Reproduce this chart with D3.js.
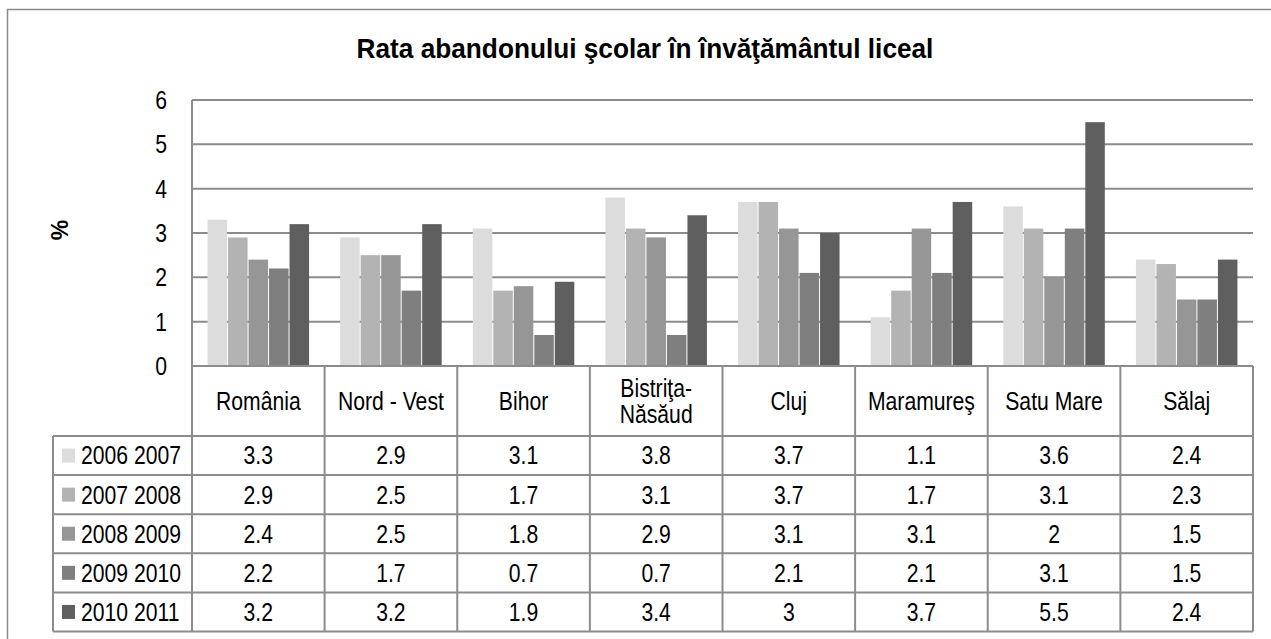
<!DOCTYPE html>
<html>
<head>
<meta charset="utf-8">
<script src="https://cdn.jsdelivr.net/npm/d3@7"></script>
<style>
  html, body { margin: 0; background: #fff; }
  svg { display: block; }
  text { font-family: "Liberation Sans", Arial, sans-serif; fill: #000; }
</style>
</head>
<body>
<svg id="chart" width="1271" height="639"></svg>
<script>
// Chart text and data
const title = "Rata abandonului şcolar în învăţământul liceal";
const yLabel = "%";
const categories = ["România", "Nord - Vest", "Bihor", "Bistriţa-Năsăud", "Cluj", "Maramureş", "Satu Mare", "Sălaj"];
const seriesNames = ["2006 2007", "2007 2008", "2008 2009", "2009 2010", "2010 2011"];
const v2006_2007 = [3.3, 2.9, 3.1, 3.8, 3.7, 1.1, 3.6, 2.4];
const v2007_2008 = [2.9, 2.5, 1.7, 3.1, 3.7, 1.7, 3.1, 2.3];
const v2008_2009 = [2.4, 2.5, 1.8, 2.9, 3.1, 3.1, 2, 1.5];
const v2009_2010 = [2.2, 1.7, 0.7, 0.7, 2.1, 2.1, 3.1, 1.5];
const v2010_2011 = [3.2, 3.2, 1.9, 3.4, 3, 3.7, 5.5, 2.4];
const yTicks = [0, 1, 2, 3, 4, 5, 6];

const seriesValues = [v2006_2007, v2007_2008, v2008_2009, v2009_2010, v2010_2011];
const colors = ["#dcdcdc", "#b3b3b3", "#969696", "#7f7f7f", "#5f5f5f"];
const lineColor = "#8c8c8c";

// Layout
const plot = { left: 192, right: 1253, top: 100, bottom: 366 };
const table = { left: 53, headerBottom: 436, rowH: 39.1 };
const fontSize = 25.5, squeeze = 0.83;

const svg = d3.select("#chart");

// Outer frame
svg.append("rect")
  .attr("x", 7.5).attr("y", 9.5).attr("width", 1400).attr("height", 800)
  .attr("fill", "none").attr("stroke", lineColor).attr("stroke-width", 1.5);

const x = d3.scaleBand().domain(categories).range([plot.left, plot.right]).padding(0);
const xs = d3.scaleBand().domain(seriesNames).range([0, x.bandwidth()])
  .paddingInner(0).paddingOuter(0.735);
const y = d3.scaleLinear().domain([0, 6]).range([plot.bottom, plot.top]);

function label(parent, px, py, str, anchor, opts = {}) {
  const t = parent.append("text")
    .attr("transform", `translate(${px},${py}) scale(${opts.sx ?? squeeze},1)`)
    .attr("text-anchor", anchor)
    .attr("dy", "0.35em")
    .style("font-size", (opts.size ?? fontSize) + "px")
    .text(str);
  if (opts.bold) t.style("font-weight", "bold");
  return t;
}

// Gridlines
svg.append("g").selectAll("line")
  .data(yTicks.filter(d => d > 0))
  .join("line")
  .attr("x1", plot.left).attr("x2", plot.right)
  .attr("y1", d => y(d)).attr("y2", d => y(d))
  .attr("stroke", lineColor).attr("stroke-width", 2);

// Bars
const groups = svg.append("g").selectAll("g")
  .data(categories)
  .join("g")
  .attr("transform", c => `translate(${x(c)},0)`);

groups.selectAll("rect")
  .data((c, ci) => seriesNames.map((s, si) => ({ s, si, v: seriesValues[si][ci] })))
  .join("rect")
  .attr("x", d => xs(d.s) + 0.5)
  .attr("width", xs.bandwidth() - 1)
  .attr("y", d => y(d.v))
  .attr("height", d => y(0) - y(d.v))
  .attr("fill", d => colors[d.si]);

// Y tick labels
svg.append("g").selectAll("g")
  .data(yTicks).join("g")
  .each(function (d) { label(d3.select(this), 167, y(d), String(d), "end"); });

// Y axis title
svg.append("text")
  .attr("transform", "translate(60,230) rotate(-90)")
  .attr("text-anchor", "middle").attr("dy", "0.35em")
  .style("font-size", "23px").style("font-weight", "bold")
  .text(yLabel);

// Title
label(svg, 645, 48, title, "middle", { size: 28.5, bold: true, sx: 0.92 });

// Data table lines
const rowTops = d3.range(seriesNames.length + 1).map(i => table.headerBottom + i * table.rowH);
const lines = svg.append("g").attr("stroke", lineColor).attr("stroke-width", 2);
lines.append("line").attr("x1", plot.left).attr("x2", plot.right)
  .attr("y1", plot.bottom).attr("y2", plot.bottom);
rowTops.forEach(ry => lines.append("line")
  .attr("x1", table.left).attr("x2", plot.right).attr("y1", ry).attr("y2", ry));
const tableBottom = rowTops[rowTops.length - 1];
lines.append("line").attr("x1", table.left).attr("x2", table.left)
  .attr("y1", table.headerBottom).attr("y2", tableBottom);
lines.append("line").attr("x1", plot.left).attr("x2", plot.left)
  .attr("y1", plot.top).attr("y2", tableBottom);
categories.slice(1).map(c => x(c)).concat([plot.right]).forEach(vx =>
  lines.append("line").attr("x1", vx).attr("x2", vx)
    .attr("y1", plot.bottom).attr("y2", tableBottom));

// Category header labels (wrap after an unspaced hyphen)
categories.forEach(c => {
  const parts = c.split(/(?<=\S-)(?=\S)/);
  const cx = x(c) + x.bandwidth() / 2;
  const cy = (plot.bottom + table.headerBottom) / 2;
  const lh = 26;
  parts.forEach((p, i) => label(svg, cx, cy + (i - (parts.length - 1) / 2) * lh, p, "middle"));
});

// Series rows: legend key, name and values
seriesNames.forEach((s, si) => {
  const cy = rowTops[si] + table.rowH / 2;
  svg.append("rect").attr("x", 62).attr("y", cy - 7).attr("width", 13).attr("height", 14)
    .attr("fill", colors[si]);
  label(svg, 81, cy, s, "start");
  categories.forEach((c, ci) => {
    label(svg, x(c) + x.bandwidth() / 2, cy, String(seriesValues[si][ci]), "middle");
  });
});
</script>
</body>
</html>
